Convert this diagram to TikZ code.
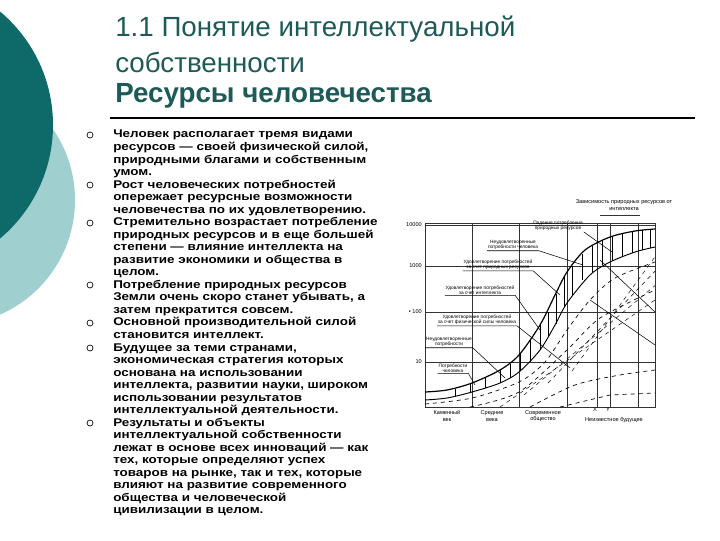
\documentclass[tikz,border=0pt]{standalone}
\usepackage{fontspec}
\setmainfont{Liberation Sans}
\newfontfamily\bodyf[FakeStretch=1.2]{Liberation Sans}
\definecolor{teal1}{HTML}{0E6A68}
\definecolor{teal2}{HTML}{9FD0CF}
\definecolor{ttl}{HTML}{1E5A58}
\tikzset{
 body/.style={anchor=north west,align=left,inner sep=0pt,font=\bodyf\fontsize{8.4}{9.4}\selectfont\bfseries,text width=300pt},
 bul/.style={circle,draw=black,line width=0.5pt,inner sep=0pt,minimum size=4.5pt},
 tiny/.style={font=\fontsize{3.6}{4}\selectfont,align=center,inner sep=0.5pt},
 axl/.style={font=\fontsize{4.2}{4.6}\selectfont,align=center,inner sep=0pt},
 grid/.style={line width=0.5pt,black!80},
 lead/.style={line width=0.4pt},
 ttlf/.style={anchor=west,text=ttl,inner sep=0pt,font=\fontsize{20.8}{22}\selectfont}
}
\begin{document}
\begin{tikzpicture}[x=0.75pt,y=-0.75pt]
\useasboundingbox (0,0) rectangle (720,540);
\fill[white] (0,0) rectangle (720,540);
% left decoration
\begin{scope}
\clip (0,0) rectangle (720,540);
\fill[teal2] (-50,200) circle (125);
\fill[teal1] (-95,125) circle (148);
\fill[white] (-60,260) circle (50);
\end{scope}
% title
\node[ttlf] (t1) at (115,29) {1.1 Понятие интеллектуальной};
\node[ttlf] (t2) at (115,62) {собственности};
\node[ttlf,font=\fontsize{20.8}{22}\selectfont\bfseries] (t3) at (115,96) {Ресурсы человечества};
\draw[line width=0.8pt] (110,118) -- (695,118);
% bullets
\foreach \y/\n in {135/b1,185/b2,223/b3,285/b4,323/b5,348/b6,423/b7}{\node[bul] (\n) at (90,\y) {};}
\node[body] (p1) at (113,130) {Человек располагает тремя видами\\ресурсов — своей физической силой,\\природными благами и собственным\\умом.\\Рост человеческих потребностей\\опережает ресурсные возможности\\человечества по их удовлетворению.\\Стремительно возрастает потребление\\природных ресурсов и в еще большей\\степени — влияние интеллекта на\\развитие экономики и общества в\\целом.\\Потребление природных ресурсов\\Земли очень скоро станет убывать, а\\затем прекратится совсем.\\Основной производительной силой\\становится интеллект.\\Будущее за теми странами,\\экономическая стратегия которых\\основана на использовании\\интеллекта, развитии науки, широком\\использовании результатов\\интеллектуальной деятельности.\\Результаты и объекты\\интеллектуальной собственности\\лежат в основе всех инноваций — как\\тех, которые определяют успех\\товаров на рынке, так и тех, которые\\влияют на развитие современного\\общества и человеческой\\цивилизации в целом.};
% chart
\draw[grid] (425,223) rectangle (655,407);
\foreach \y in {225,266,312,362}{\draw[grid] (425,\y) -- (655,\y);}
\foreach \x in {472,519,567,597,610,638}{\draw[grid] (\x,223) -- (\x,407);}
\draw[grid] (600,215) -- (640,215);
\node[axl,anchor=east] (y1) at (422,225) {10000};
\node[axl,anchor=east] (y2) at (422,266) {1000};
\node[axl,anchor=east] (y3) at (422,312) {• 100};
\node[axl,anchor=east] (y4) at (422,362) {10};
\node[axl] (x1) at (447,416) {Каменный\\век};
\node[axl] (x2) at (492,416) {Средние\\века};
\node[axl] (x3) at (543,416) {Современное\\общество};
\node[axl] (xx) at (595,410) {X};
\node[axl] (xy) at (608,410) {Y};
\node[axl] (x4) at (614,420) {Неизвестное будущее};
\node[axl] (top) at (624,205) {Зависимость природных ресурсов от\\интеллекта};
% curves
\draw[line width=0.9pt] plot[smooth] coordinates {(425,392) (447,390) (472,383) (500,370) (519,355) (540,325) (555,295) (567,272) (585,250) (610,237) (635,231) (655,229)};
\draw[line width=0.7pt] plot[smooth] coordinates {(425,400) (447,398) (472,392) (500,383) (519,372) (540,350) (555,325) (567,303) (590,275) (610,262) (635,252) (655,247)};
\draw[line width=0.5pt,dashed] plot[smooth] coordinates {(425,404) (472,398) (519,382) (545,362) (567,330) (590,300) (615,278) (655,262)};
\draw[line width=0.5pt,dashed] plot[smooth] coordinates {(470,407) (519,392) (567,350) (600,318) (655,290)};
\draw[line width=0.5pt,dashed] plot[smooth] coordinates {(530,407) (575,385) (620,375) (655,370)};
\draw[line width=0.5pt,dashed] (560,407) -- (610,395) -- (655,393);
% hatching
\foreach \x/\a/\b in {455/389/396,470/384/392,485/378/388,500/370/383,510/364/378,520/354/371,530/340/362,540/325/350,548/312/337,556/294/324,564/277/307,572/266/296,582/254/280,592/246/272,602/240/265,612/236/261,622/233/256,632/232/253,642/230/250,650/229/248}{
 \draw[line width=0.45pt] (\x,\a) -- (\x,\b);}
\foreach \s in {0,12,24,36}{\draw[line width=0.35pt,dashed] (500+\s*2,407-\s) -- (655,300-\s*1.2);}
\draw[line width=0.4pt] (600,260) -- (655,312);
\draw[line width=0.4pt] (590,300) -- (655,345);
% inner labels with leaders
\node[tiny] (l1) at (558,226) {Падение потребления\\природных ресурсов};
\draw[lead] (l1.south east) -- (612,252);
\node[tiny] (l2) at (513,245) {Неудовлетворенные\\потребности человека};
\draw[lead] (l2.south west) -- (l2.south east) -- (583,265);
\node[tiny] (l3) at (498,265) {Удовлетворение потребностей\\за счет природных ресурсов};
\draw[lead] (l3.south west) -- (l3.south east) -- (560,295);
\node[tiny] (l4) at (480,290) {Удовлетворение потребностей\\за счет интеллекта};
\draw[lead] (l4.south west) -- (l4.south east) -- (540,330);
\node[tiny] (l5) at (477,320) {Удовлетворение потребностей\\за счет физической силы человека};
\draw[lead] (l5.south west) -- (l5.south east) -- (570,368);
\node[tiny] (l6) at (449,342) {Неудовлетворенные\\потребности};
\draw[lead] (l6.south west) -- (l6.south east) -- (505,378);
\node[tiny] (l7) at (453,368) {Потребности\\человека};
\draw[lead] (l7.south west) -- (l7.south east) -- (475,385);
\end{tikzpicture}
\end{document}
